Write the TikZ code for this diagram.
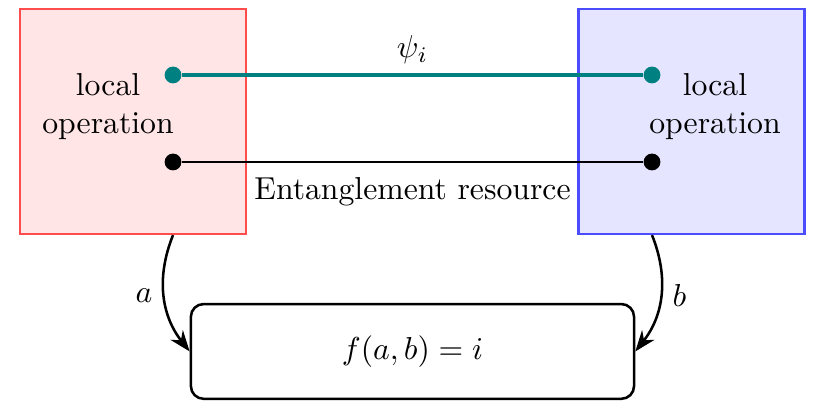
\documentclass[tikz,border=0pt]{standalone}
\usetikzlibrary{arrows.meta}
\begin{document}
\begin{tikzpicture}[
        >=Stealth,
        party/.style={draw, thick, minimum width=2.5cm, minimum height=2.49cm},
        dot/.style={circle, fill, inner sep=0pt, minimum size=5.3pt},
        optext/.style={align=center}
    ]
    \useasboundingbox (0,0) rectangle (9.041,4.454);
    \node[party, fill=red!10, draw=red!70] (alice) at (1.474,3.108) {};
    \node[party, fill=blue!10, draw=blue!70] (bob) at (7.662,3.108) {};
    \node[optext] (aop) at (1.197,3.268) {local\\operation};
    \node[optext] (bop) at (7.922,3.268) {local\\operation};
    \node[dot, teal] (aq) at (1.917,3.623) {};
    \node[dot, teal] (bq) at (7.224,3.623) {};
    \node[dot] (ae) at (1.917,2.659) {};
    \node[dot] (be) at (7.224,2.659) {};
    \draw[teal, very thick] (aq) -- node[above=-0.5pt, black] {$\psi_i$} (bq);
    \draw[thick] (ae) -- node[below=1.2pt] {Entanglement resource} (be);
    \node[draw, thick, rounded corners, minimum width=4.91cm,
        minimum height=1.05cm] (res) at (4.570,0.560) {$f(a,b)=i$};
    \draw[->, thick] (ae |- alice.south) to[bend right=30] node[left] {$a$} (res.west);
    \draw[->, thick] (be |- bob.south) to[bend left=30] node[right] {$b$} (res.east);
\end{tikzpicture}
\end{document}
